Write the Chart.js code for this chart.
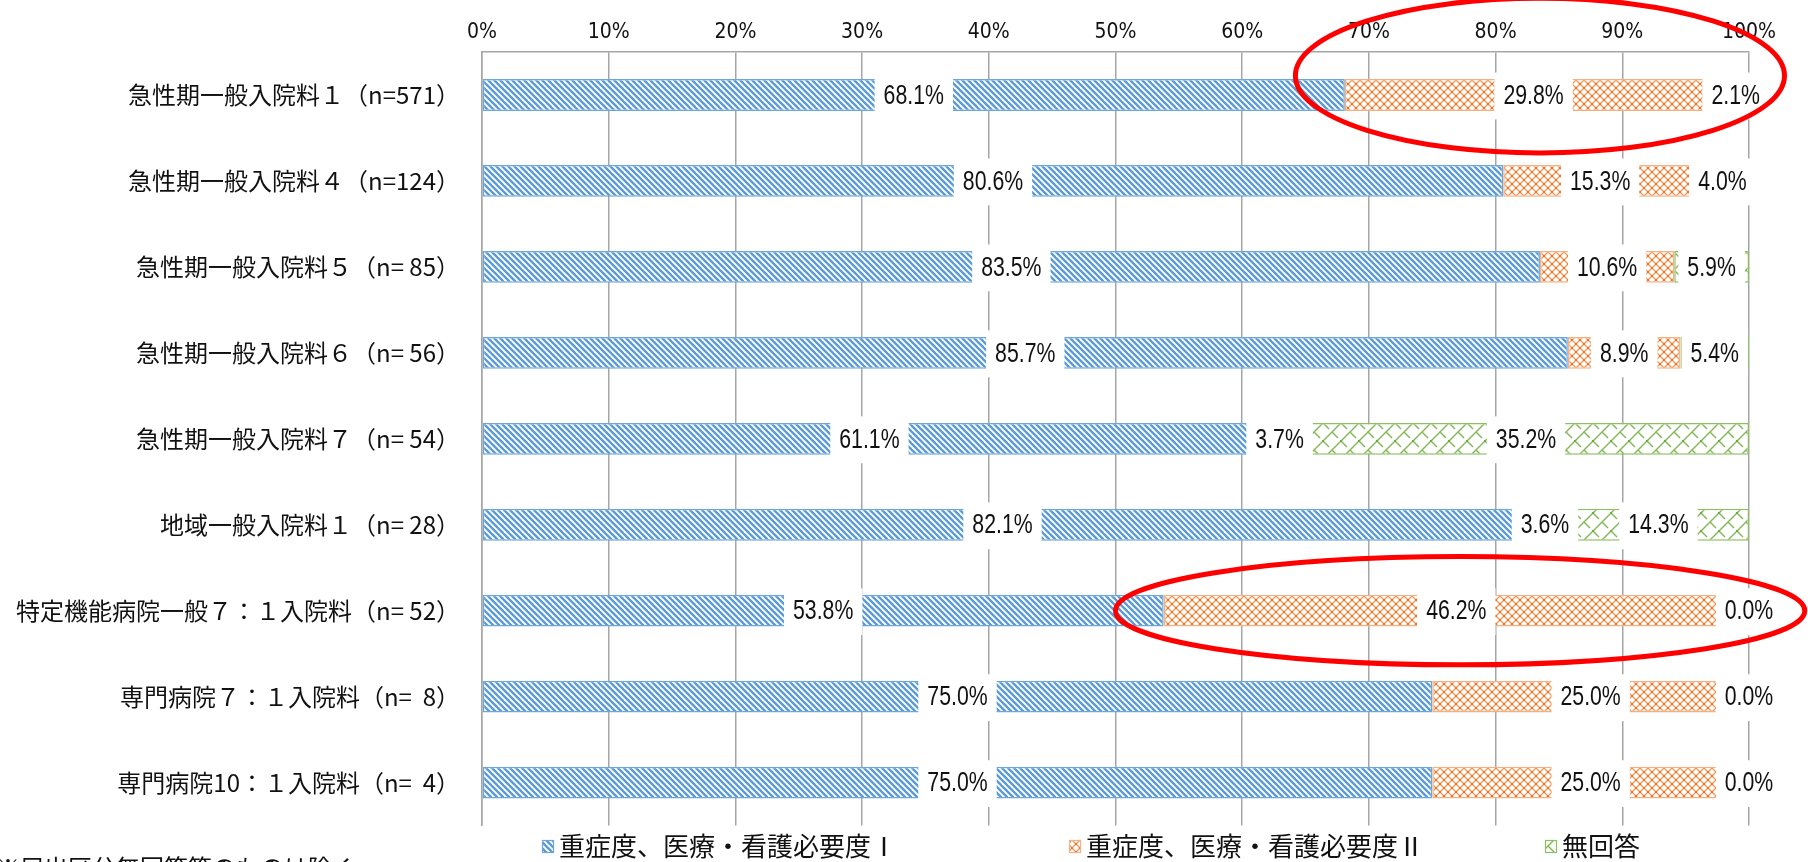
<!DOCTYPE html>
<html>
<head>
<meta charset="utf-8">
<script src="https://cdn.jsdelivr.net/npm/chart.js@4.4.1/dist/chart.umd.min.js"></script>
<style>
  html, body { margin: 0; padding: 0; background: #ffffff; }
  #wrap { width: 1808px; height: 862px; }
</style>
</head>
<body>
<div id="wrap"><canvas id="c" width="1808" height="862"></canvas></div>
<script>
// ---- data ----
const categories = [
  '急性期一般入院料１（n=571）',
  '急性期一般入院料４（n=124）',
  '急性期一般入院料５（n= 85）',
  '急性期一般入院料６（n= 56）',
  '急性期一般入院料７（n= 54）',
  '地域一般入院料１（n= 28）',
  '特定機能病院一般７：１入院料（n= 52）',
  '専門病院７：１入院料（n=  8）',
  '専門病院10：１入院料（n=  4）'
];
const seriesNames = ['重症度、医療・看護必要度Ⅰ', '重症度、医療・看護必要度Ⅱ', '無回答'];
const necessityI  = [68.1, 80.6, 83.5, 85.7, 61.1, 82.1, 53.8, 75.0, 75.0];
const necessityII = [29.8, 15.3, 10.6,  8.9,  3.7,  3.6, 46.2, 25.0, 25.0];
const noAnswer    = [ 2.1,  4.0,  5.9,  5.4, 35.2, 14.3,  0.0,  0.0,  0.0];
const xTickLabels = ['0%','10%','20%','30%','40%','50%','60%','70%','80%','90%','100%'];
const footnote = '※届出区分無回答等のものは除く';

// ---- styles ----
const CJK = '"Noto Sans CJK JP", "Noto Sans CJK SC", sans-serif';
const COND = '"DejaVu Sans Condensed", "Liberation Sans", sans-serif';
const LAB = '"Liberation Sans", "DejaVu Sans", sans-serif';
const GRID = '#A6A6A6';

function makePattern(w, h, draw) {
  const c = document.createElement('canvas');
  c.width = w; c.height = h;
  const g = c.getContext('2d');
  g.fillStyle = '#ffffff';
  g.fillRect(0, 0, w, h);
  draw(g, w, h);
  return document.getElementById('c').getContext('2d').createPattern(c, 'repeat');
}
const bluePat = makePattern(6, 6, (g) => {
  g.strokeStyle = '#5B9BD5'; g.lineWidth = 2.4;
  for (const c of [-12, -6, 0, 6, 12]) { g.beginPath(); g.moveTo(-3, -3 + c); g.lineTo(9, 9 + c); g.stroke(); }
});
const orangePat = makePattern(8, 8, (g) => {
  g.strokeStyle = '#F29858'; g.lineWidth = 1.3;
  for (const c of [-8, 0, 8, 16]) {
    g.beginPath(); g.moveTo(-2, -2 + c); g.lineTo(10, 10 + c); g.stroke();
    g.beginPath(); g.moveTo(-2, c + 2); g.lineTo(10, c - 10); g.stroke();
  }
  g.fillStyle = '#E8732A';
  g.fillRect(3, 3, 2, 2);
  g.fillRect(-1, -1, 2, 2); g.fillRect(7, -1, 2, 2); g.fillRect(-1, 7, 2, 2); g.fillRect(7, 7, 2, 2);
});
const greenPat = makePattern(18, 18, (g) => {
  g.strokeStyle = '#82B957'; g.lineWidth = 1.4;
  for (const c of [0, 18, 36]) { g.beginPath(); g.moveTo(-2, c + 2); g.lineTo(c + 2, -2); g.stroke(); }
  g.beginPath(); g.moveTo(0, 0); g.lineTo(6, 6); g.stroke();
  g.beginPath(); g.moveTo(9, 9); g.lineTo(15, 15); g.stroke();
  g.fillStyle = '#6FA845';
  g.fillRect(8, 8, 2, 2);
});
const fills = [bluePat, orangePat, greenPat];
const borders = ['#6FA6DA', '#F4B183', '#8CC063'];

// ---- plugins ----
const segmentLabels = {
  id: 'segmentLabels',
  afterDatasetsDraw(chart) {
    const ctx = chart.ctx;
    const sx = 0.76;
    ctx.save();
    ctx.font = '28px ' + LAB;
    ctx.textAlign = 'center';
    ctx.textBaseline = 'middle';
    chart.data.datasets.forEach((ds, di) => {
      const meta = chart.getDatasetMeta(di);
      meta.data.forEach((el, i) => {
        const txt = ds.data[i].toFixed(1) + '%';
        const cx = (el.x + el.base) / 2;
        const cy = el.y;
        const w = ctx.measureText(txt).width * sx + 18;
        const h = el.height + 15;
        ctx.fillStyle = '#ffffff';
        ctx.fillRect(cx - w / 2, cy - h / 2 + 1, w, h);
        ctx.fillStyle = '#111111';
        ctx.save();
        ctx.translate(cx, cy + 1);
        ctx.scale(sx, 1);
        ctx.fillText(txt, 0, 0);
        ctx.restore();
      });
    });
    ctx.restore();
  }
};

const extras = {
  id: 'extras',
  afterDraw(chart) {
    const ctx = chart.ctx;
    const xs = chart.scales.x, ys = chart.scales.y;
    const band = ys.getPixelForValue(1) - ys.getPixelForValue(0);
    ctx.save();
    // legend
    const items = [542, 1069, 1545];
    ctx.font = '26px ' + CJK;
    ctx.textBaseline = 'middle';
    ctx.textAlign = 'left';
    seriesNames.forEach((name, i) => {
      const bx = items[i], by = 840;
      ctx.fillStyle = fills[i];
      ctx.fillRect(bx, by, 12, 13);
      ctx.strokeStyle = borders[i]; ctx.lineWidth = 1.2;
      ctx.strokeRect(bx + 0.5, by + 0.5, 11, 12);
      ctx.fillStyle = '#111111';
      ctx.fillText(name, bx + 17, by + 6);
    });
    // footnote (cut by the bottom edge)
    ctx.font = '24px ' + CJK;
    ctx.textBaseline = 'top';
    ctx.fillText(footnote, -4, 856);
    // red ellipses
    ctx.strokeStyle = '#FF0000';
    ctx.lineWidth = 5;
    const ell = (xc, xr, yi, yoff, yr) => {
      const cx = xs.getPixelForValue(xc);
      const rx = xs.getPixelForValue(xc + xr) - cx;
      const cy = ys.getPixelForValue(yi) + yoff * band;
      ctx.beginPath();
      ctx.ellipse(cx, cy, rx, yr * band, 0, 0, Math.PI * 2);
      ctx.stroke();
    };
    ell(83.5, 19.3, 0, -0.225, 0.9);
    ell(77.2, 27.2, 6, 0, 0.63);
    ctx.restore();
  }
};

new Chart(document.getElementById('c'), {
  type: 'bar',
  data: {
    labels: categories,
    datasets: [necessityI, necessityII, noAnswer].map((d, i) => ({
      label: seriesNames[i],
      data: d,
      backgroundColor: fills[i],
      borderColor: borders[i],
      borderWidth: 1.5,
      borderSkipped: false,
      barPercentage: 0.37,
      categoryPercentage: 1.0
    }))
  },
  options: {
    indexAxis: 'y',
    responsive: false,
    animation: false,
    devicePixelRatio: 1,
    layout: { padding: { top: 0, right: 59, bottom: 29, left: 0 } },
    scales: {
      x: {
        position: 'top',
        stacked: true,
        min: 0, max: 100,
        ticks: {
          stepSize: 10,
          callback: (v) => xTickLabels[Math.round(v / 10)],
          font: { family: COND, size: 21 },
          color: '#111111',
          padding: 7,
          maxRotation: 0
        },
        grid: { color: GRID, lineWidth: 1.5, drawTicks: false },
        border: { display: true, color: GRID, width: 1.5 },
        afterFit(s) { s.height = 52; }
      },
      y: {
        stacked: true,
        ticks: {
          font: { family: CJK, size: 24 },
          color: '#111111',
          padding: 22
        },
        grid: { display: false, drawTicks: false },
        border: { display: true, color: GRID, width: 1.5 },
        afterFit(s) { s.width = 482; }
      }
    },
    plugins: {
      legend: { display: false },
      tooltip: { enabled: false }
    }
  },
  plugins: [segmentLabels, extras]
});
</script>
</body>
</html>
